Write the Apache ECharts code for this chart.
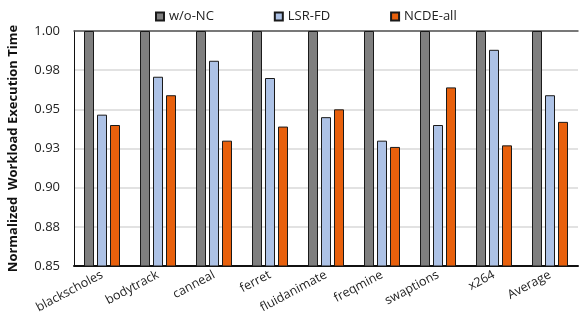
<!DOCTYPE html>
<html><head><meta charset="utf-8">
<script src="https://cdn.jsdelivr.net/npm/echarts@6/dist/echarts.min.js"></script>
<style>html,body{margin:0;padding:0;background:#fff}#c{width:579px;height:331px}</style>
</head><body><div id="c"></div>
<script>
const categories = ['blackscholes','bodytrack','canneal','ferret','fluidanimate','freqmine','swaptions','x264','Average'];
const seriesNames = ['w/o-NC','LSR-FD','NCDE-all'];
const woNC = [1,1,1,1,1,1,1,1,1];
const lsrFD = [0.9466,0.9708,0.981,0.970,0.945,0.930,0.940,0.988,0.959];
const ncdeAll = [0.940,0.959,0.930,0.939,0.950,0.926,0.964,0.927,0.942];
const yTickLabels = ['0.85','0.88','0.90','0.93','0.95','0.98','1.00'];
const yMin = 0.85, yMax = 1.0, yStep = 0.025;
const colors = ['#7f7f7f','#adc2e6','#e8600c'];
const font = 'Open Sans';
const chart = echarts.init(document.getElementById('c'));
const mk = (name, data, i) => ({
  name, type:'bar', data, barWidth:10, barGap:'30%',
  itemStyle:{color:colors[i], borderColor:'#1a1a1a', borderWidth:1}
});
chart.setOption({
  animation:false,
  textStyle:{fontFamily:font},
  legend:{top:5, left:150, icon:'rect', itemWidth:8, itemHeight:8, itemGap:60,
    textStyle:{fontSize:13, color:'#222', fontFamily:font}, data:seriesNames},
  grid:{left:74, right:1, top:31, bottom:65, containLabel:false, outerBoundsMode:'none'},
  xAxis:[{type:'category', data:categories,
    axisLine:{lineStyle:{color:'#111', width:2}}, axisTick:{show:false},
    axisLabel:{rotate:28, interval:0, fontSize:12.5, color:'#222', margin:8, fontFamily:font}},
    {type:'category', position:'top', data:categories, axisLine:{show:true, lineStyle:{color:'#555', width:1.5}},
     axisTick:{show:false}, axisLabel:{show:false}}],
  yAxis:{type:'value', min:yMin, max:yMax, interval:yStep,
    name:'Normalized  Workload Execution Time', nameLocation:'middle', nameGap:54,
    nameTextStyle:{fontSize:13, fontWeight:'bold', color:'#111', fontFamily:font},
    axisLine:{show:true, lineStyle:{color:'#111', width:1}}, axisTick:{show:false},
    splitLine:{lineStyle:{color:'#d9d9d9', width:1.5}},
    axisLabel:{fontSize:13, color:'#222', margin:14, fontFamily:font,
      formatter:v=>yTickLabels[Math.round((v-yMin)/yStep)]}},
  series:[mk(seriesNames[0],woNC,0), mk(seriesNames[1],lsrFD,1), mk(seriesNames[2],ncdeAll,2)]
});
</script></body></html>
